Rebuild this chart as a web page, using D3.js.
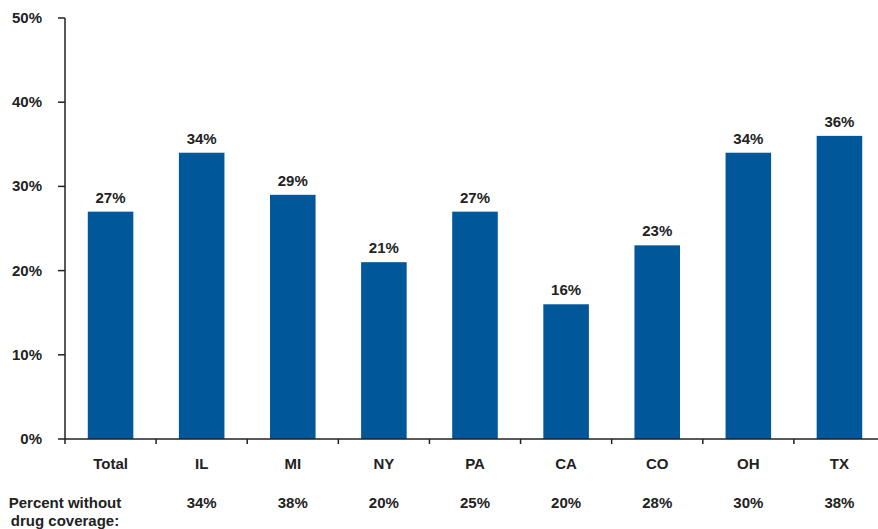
<!DOCTYPE html>
<html><head><meta charset="utf-8">
<script src="https://cdn.jsdelivr.net/npm/d3@7"></script>
<style>body{margin:0;background:#fff}svg{display:block}text{font-family:"Liberation Sans",Arial,sans-serif;font-weight:bold;fill:#222}</style>
</head><body><svg id="c" width="878" height="529"></svg>
<script>
const categories = ["Total","IL","MI","NY","PA","CA","CO","OH","TX"];
const values = [27,34,29,21,27,16,23,34,36];
const withoutCoverage = ["","34%","38%","20%","25%","20%","28%","30%","38%"];
const yTicks = [0,10,20,30,40,50];

const FS = 15;
const svg = d3.select("#c");
const x = d3.scaleBand().domain(categories).range([65, 885]).paddingInner(0.5).paddingOuter(0.25);
const y = d3.scaleLinear().domain([0,50]).range([439, 18]);
const color = "#00579a";

svg.selectAll("rect.bar").data(values).join("rect")
  .attr("class","bar")
  .attr("x",(d,i)=>x(categories[i]))
  .attr("width",x.bandwidth())
  .attr("y",d=>y(d))
  .attr("height",d=>y(0)-y(d))
  .attr("fill",color);

svg.selectAll("text.val").data(values).join("text")
  .attr("class","val")
  .attr("x",(d,i)=>x(categories[i])+x.bandwidth()/2)
  .attr("y",d=>y(d)-9)
  .attr("text-anchor","middle")
  .attr("font-size",FS)
  .text(d=>d+"%");

// y axis
const ya = svg.append("g");
ya.append("line").attr("x1",65).attr("x2",65).attr("y1",y(50)).attr("y2",y(0)).attr("stroke","#222").attr("stroke-width",1.5);
ya.selectAll("line.t").data(yTicks).join("line").attr("class","t")
  .attr("x1",58).attr("x2",65).attr("y1",d=>y(d)).attr("y2",d=>y(d)).attr("stroke","#222").attr("stroke-width",1.5);
ya.selectAll("text").data(yTicks).join("text")
  .attr("x",42).attr("y",d=>y(d)+5).attr("text-anchor","end").attr("font-size",FS)
  .text(d=>d+"%");

// x axis
const step = x.step();
const xa = svg.append("g");
xa.append("line").attr("x1",65).attr("x2",878).attr("y1",y(0)).attr("y2",y(0)).attr("stroke","#222").attr("stroke-width",1.5);
xa.selectAll("line.t").data(categories).join("line").attr("class","t")
  .attr("x1",(d,i)=>65+i*step).attr("x2",(d,i)=>65+i*step)
  .attr("y1",y(0)).attr("y2",y(0)+5).attr("stroke","#222").attr("stroke-width",1.5);
xa.selectAll("text").data(categories).join("text")
  .attr("x",d=>x(d)+x.bandwidth()/2).attr("y",469).attr("text-anchor","middle").attr("font-size",FS)
  .text(d=>d);

// bottom row
svg.selectAll("text.cov").data(withoutCoverage).join("text").attr("class","cov")
  .attr("x",(d,i)=>x(categories[i])+x.bandwidth()/2).attr("y",508).attr("text-anchor","middle").attr("font-size",FS)
  .text(d=>d);
const lbl = svg.append("text").attr("x",65).attr("y",508).attr("text-anchor","middle").attr("font-size",FS);
lbl.append("tspan").attr("x",65).text("Percent without");
lbl.append("tspan").attr("x",65).attr("dy",18).text("drug coverage:");
</script></body></html>
